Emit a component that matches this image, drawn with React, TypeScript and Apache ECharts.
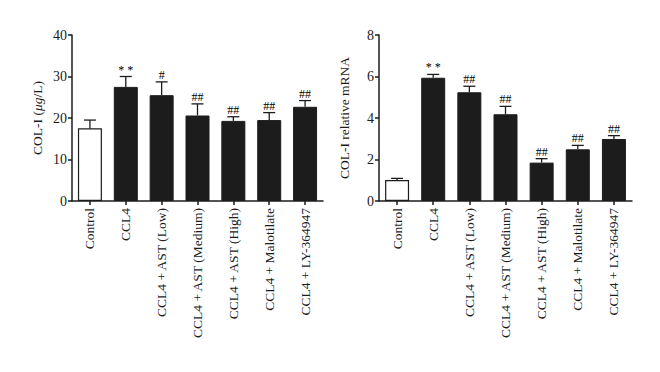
import React, { useEffect, useRef } from "react";
import * as echarts from "echarts";

const categories = [
  "Control",
  "CCL4",
  "CCL4 + AST (Low)",
  "CCL4 + AST (Medium)",
  "CCL4 + AST (High)",
  "CCL4 + Malotilate",
  "CCL4 + LY-364947",
];

const colValues = [17.5, 27.5, 25.5, 20.6, 19.3, 19.5, 22.7];
const colErrTops = [19.5, 30.0, 28.7, 23.4, 20.3, 21.3, 24.2];
const colSig = ["", "* *", "#", "##", "##", "##", "##"];

const mrnaValues = [1.01, 5.94, 5.24, 4.18, 1.85, 2.49, 2.99];
const mrnaErrTops = [1.09, 6.1, 5.53, 4.56, 2.04, 2.68, 3.15];
const mrnaSig = ["", "* *", "##", "##", "##", "##", "##"];

const leftTicks = [0, 10, 20, 30, 40];
const rightTicks = [0, 2, 4, 6, 8];

const FONT = "'Liberation Serif', 'DejaVu Serif', serif";
const INK = "#1c1c1c";

function barData(values: number[]) {
  return values.map((v, i) => ({
    value: v,
    itemStyle:
      i === 0
        ? { color: "#ffffff", borderColor: INK, borderWidth: 1.2 }
        : { color: INK, borderColor: INK, borderWidth: 1 },
  }));
}

function errSeries(idx: number, values: number[], tops: number[], sig: string[]) {
  return {
    type: "custom",
    xAxisIndex: idx,
    yAxisIndex: idx,
    z: 1,
    data: values.map((v, i) => [i, v, tops[i]]),
    renderItem: (params: any, api: any) => {
      const i = api.value(0);
      const base = api.coord([i, api.value(1)]);
      const top = api.coord([i, api.value(2)]);
      const half = 6;
      const label = sig[params.dataIndex];
      const children: any[] = [
        {
          type: "line",
          shape: { x1: base[0], y1: base[1], x2: top[0], y2: top[1] },
          style: { stroke: INK, lineWidth: 1.3 },
        },
        {
          type: "line",
          shape: { x1: top[0] - half, y1: top[1], x2: top[0] + half, y2: top[1] },
          style: { stroke: INK, lineWidth: 1.3 },
        },
      ];
      if (label) {
        children.push({
          type: "text",
          x: top[0],
          y: top[1] - 1,
          style: {
            text: label,
            fill: "#000000",
            font: `12px ${FONT}`,
            align: "center",
            verticalAlign: "bottom",
          },
        });
      }
      return { type: "group", children };
    },
  };
}

const axisLine = { show: true, lineStyle: { color: INK, width: 1.5 } };

export default function App() {
  const ref = useRef<HTMLDivElement>(null);
  useEffect(() => {
    if (!ref.current) return;
    const chart = echarts.init(ref.current, null, { renderer: "svg" });
    const yAxisCommon = (ticks: number[], name: string) => ({
      type: "value",
      min: ticks[0],
      max: ticks[ticks.length - 1],
      interval: ticks[1] - ticks[0],
      name,
      nameLocation: "middle",
      nameGap: 28,
      nameTextStyle: {
        fontFamily: FONT,
        fontSize: 13.5,
        color: INK,
        rich: { i: { fontFamily: FONT, fontSize: 13.5, fontStyle: "italic", color: INK } },
      },
      axisLine,
      axisTick: { show: true, length: 4, lineStyle: { color: INK, width: 1.5 } },
      axisLabel: { fontFamily: FONT, fontSize: 14, color: INK, margin: 5 },
      splitLine: { show: false },
    });
    const xAxisCommon = (gridIndex: number) => ({
      type: "category",
      gridIndex,
      data: categories,
      axisLine,
      axisTick: { show: true, alignWithLabel: true, length: 4, lineStyle: { color: INK, width: 1.5 } },
      axisLabel: { rotate: 90, fontFamily: FONT, fontSize: 13.5, color: INK, margin: 7, interval: 0 },
    });
    chart.setOption({
      animation: false,
      backgroundColor: "#ffffff",
      grid: [
        { left: 72, top: 35, width: 251, height: 166 },
        { left: 379, top: 35, width: 253, height: 166 },
      ],
      xAxis: [xAxisCommon(0), xAxisCommon(1)],
      yAxis: [
        { ...yAxisCommon(leftTicks, "COL-I ({i|μg}/L)"), gridIndex: 0 },
        { ...yAxisCommon(rightTicks, "COL-I relative mRNA"), gridIndex: 1 },
      ],
      series: [
        errSeries(0, colValues, colErrTops, colSig),
        {
          type: "bar",
          xAxisIndex: 0,
          yAxisIndex: 0,
          barWidth: 24,
          z: 2,
          data: barData(colValues),
        },
        errSeries(1, mrnaValues, mrnaErrTops, mrnaSig),
        {
          type: "bar",
          xAxisIndex: 1,
          yAxisIndex: 1,
          barWidth: 24,
          z: 2,
          data: barData(mrnaValues),
        },
      ],
    });
    return () => chart.dispose();
  }, []);
  return (
    <div
      ref={ref}
      style={{ position: "absolute", left: 0, top: 0, width: 660, height: 372 }}
    />
  );
}
